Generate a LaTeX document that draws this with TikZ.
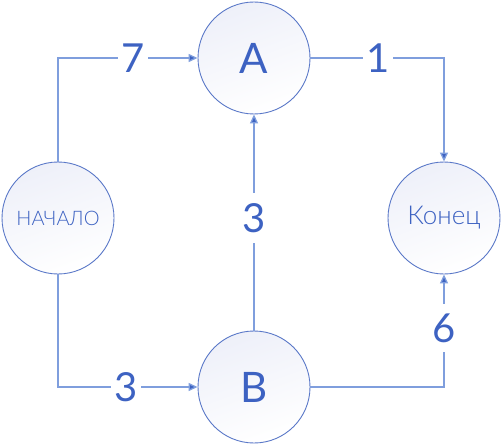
\documentclass[tikz,border=0pt]{standalone}
\usepackage{fontspec}
\setmainfont{Lato}
\newfontfamily\lightfont{Lato Light}
\usetikzlibrary{arrows.meta}
\definecolor{txtblue}{HTML}{3D62C2}
\definecolor{ringblue}{HTML}{5A78C8}
\definecolor{lineblue}{HTML}{7F9EDD}
\definecolor{fillA}{HTML}{EEF0F9}
\tikzset{
  circ/.style={circle, draw=ringblue, line width=0.9pt, minimum size=112pt, inner sep=0pt,
    top color=fillA, bottom color=white, shading angle=20, text=txtblue},
  big/.style={font=\fontsize{42}{42}\selectfont},
  conn/.style={draw=lineblue, line width=1.3pt, -{Triangle[length=9pt,width=8pt,fill=txtblue]}},
  lbl/.style={fill=white, text=txtblue, inner xsep=3pt, inner ysep=10pt,
    font=\fontsize{40}{40}\selectfont}
}
\begin{document}
\begin{tikzpicture}[x=1pt,y=1pt]
\useasboundingbox (0,0) rectangle (502,445);
\node[circ,big] (A) at (254,387) {A};
\node[circ,big] (B) at (254,58) {B};
\node[circ,font=\lightfont\fontsize{20}{20}\selectfont] (S) at (58,227) {НАЧАЛО};
\node[circ,font=\lightfont\fontsize{26}{26}\selectfont] (E) at (444,227) {Конец};
\draw[conn] (S.north) |- (A.west);
\draw[conn] (A.east) -| (E.north);
\draw[conn] (B.north) -- (A.south);
\draw[conn] (S.south) |- (B.west);
\draw[conn] (B.east) -| (E.south);
\node[lbl] (l7) at (133,387) {7};
\node[lbl] (l1) at (378,387) {1};
\node[lbl] (l3v) at (254,227) {3};
\node[lbl] (l3h) at (126,58) {3};
\node[lbl] (l6) at (444,117) {6};
\end{tikzpicture}
\end{document}
